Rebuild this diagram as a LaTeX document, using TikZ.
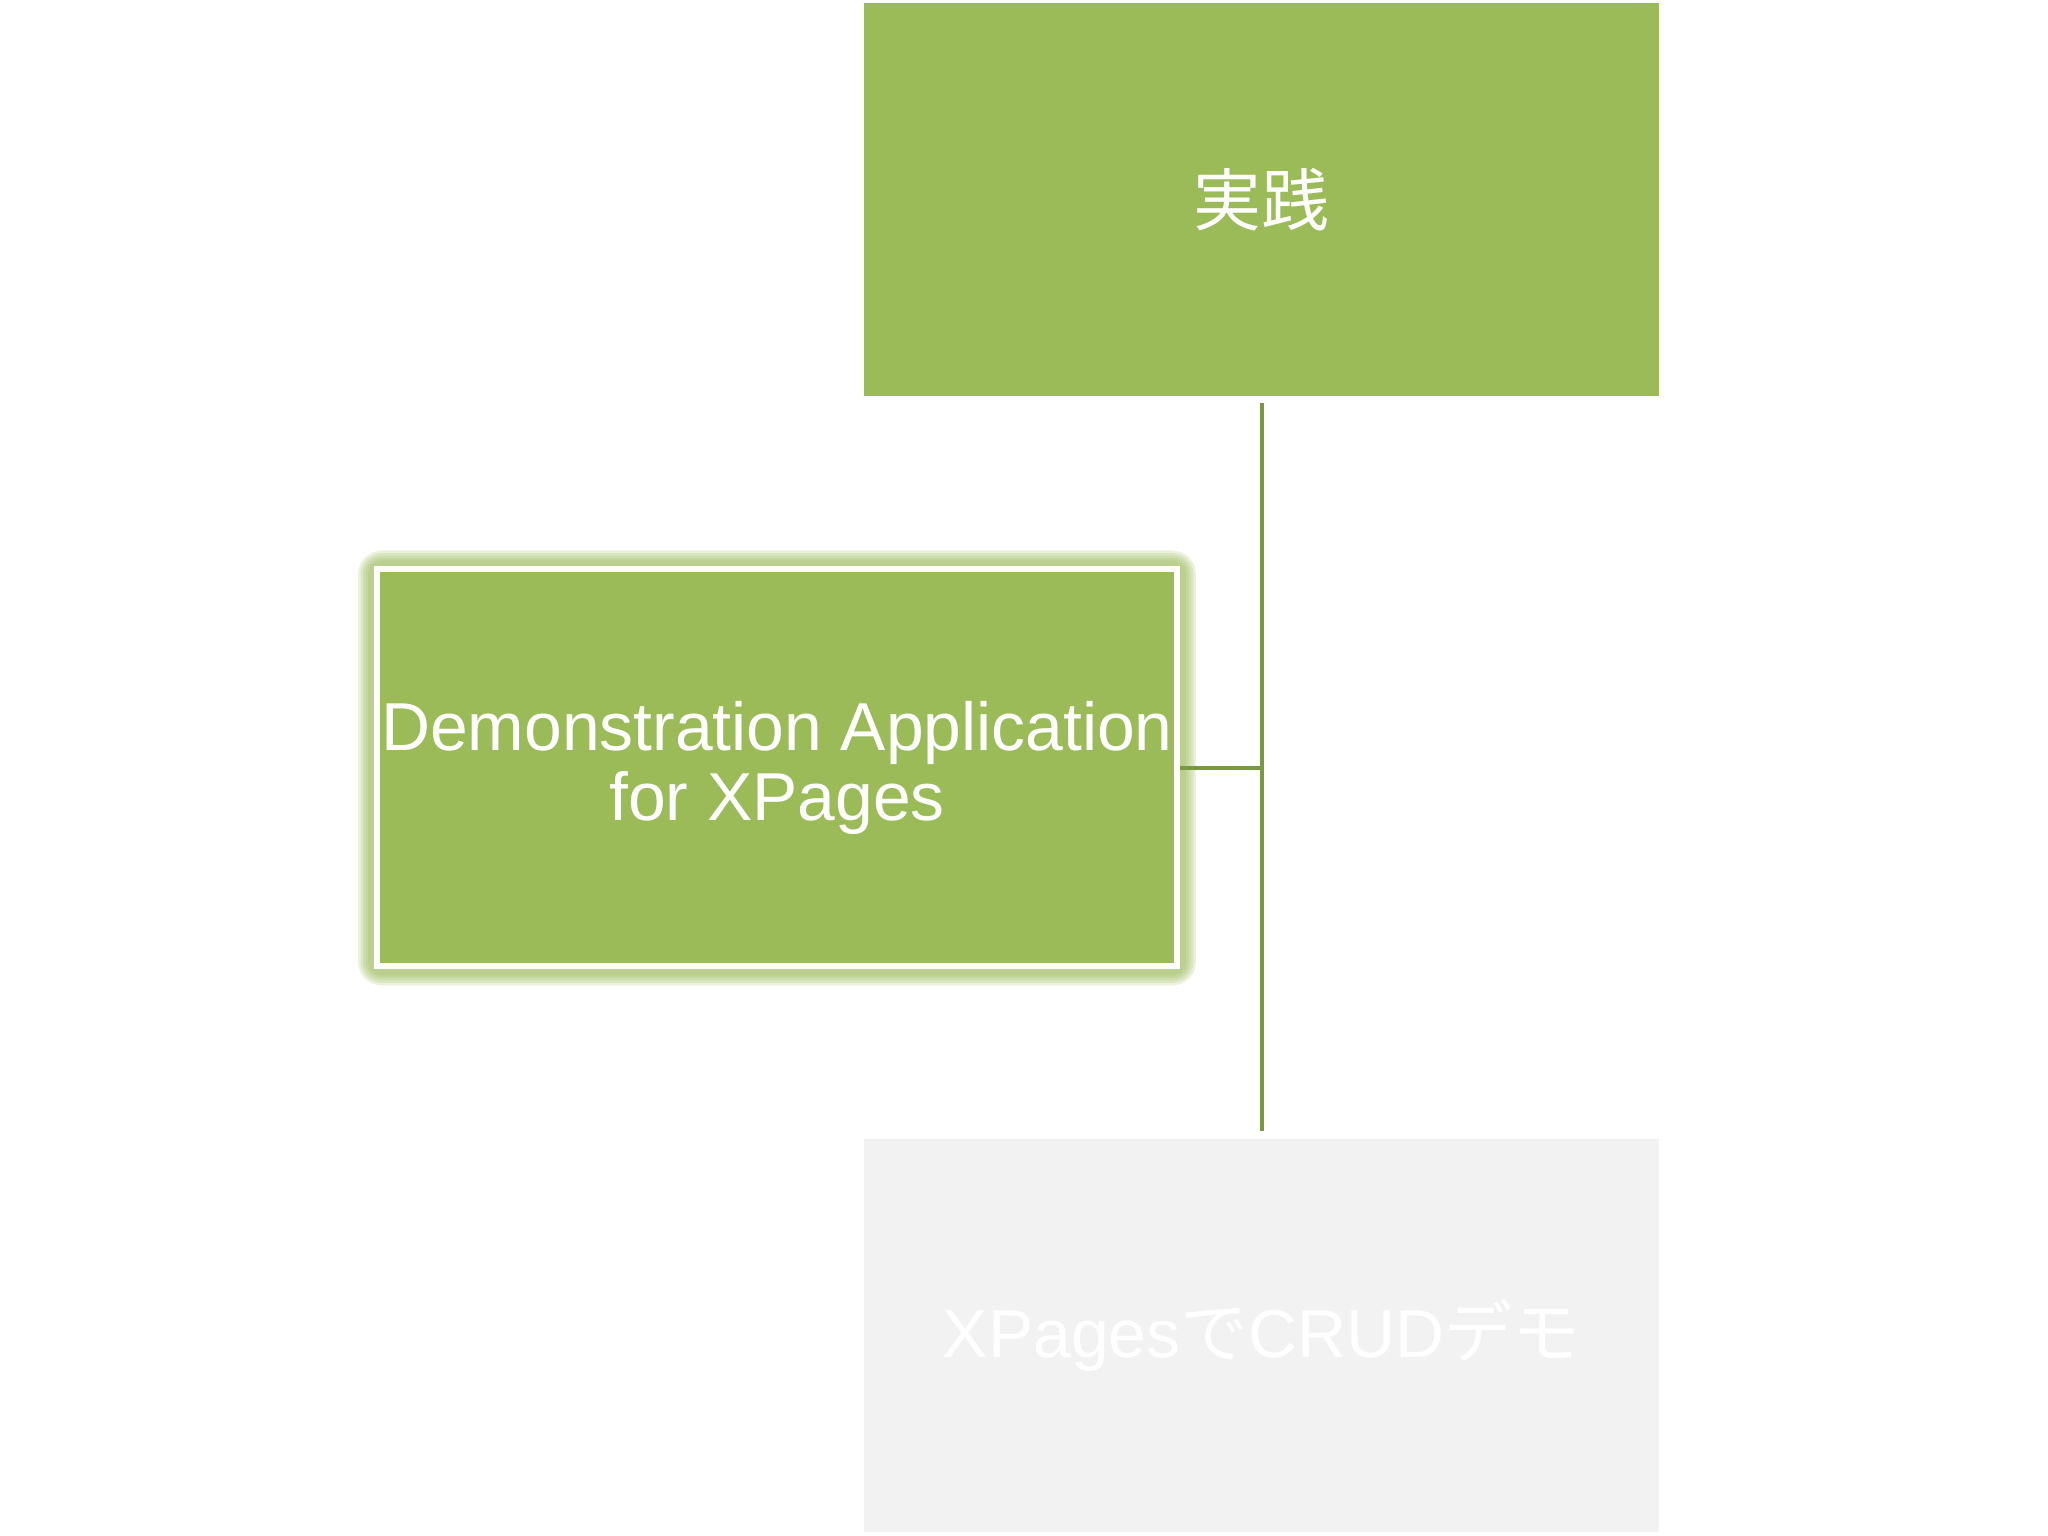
\documentclass[tikz,border=0pt]{standalone}
\usepackage{fontspec}
\setmainfont{Liberation Sans}
\newfontfamily\cjk{Noto Sans CJK JP}
\usetikzlibrary{backgrounds,calc}
\definecolor{boxgreen}{RGB}{155,187,89}
\definecolor{linegreen}{RGB}{122,152,64}
\definecolor{boxgray}{RGB}{242,242,242}
\tikzset{
  orgbox/.style={rectangle, inner sep=0pt, align=center, text=white,
    font=\fontsize{19.3}{19.8}\selectfont},
  topbox/.style={orgbox, fill=boxgreen, minimum width=7.95cm, minimum height=3.93cm},
  midbox/.style={orgbox, fill=boxgreen, draw=white, line width=0.06cm,
    minimum width=8.00cm, minimum height=3.97cm},
  botbox/.style={orgbox, fill=boxgray, minimum width=7.95cm, minimum height=3.93cm},
  conn/.style={draw=linegreen, line width=0.04cm},
  glow/.style={draw=boxgreen, line join=round, rounded corners=0.08cm, opacity=0.2}
}
\begin{document}
\begin{tikzpicture}
\useasboundingbox (0,0) rectangle (20.48,15.36);
\node[topbox] (top) at (12.615,13.365) {{\cjk 実践}};
\node[midbox] (mid) at (7.77,7.68) {Demonstration Application\\for XPages};
\node[botbox] (bot) at (12.615,2.005) {XPages{\cjk で}CRUD{\cjk デモ}};
\begin{scope}[on background layer]
  \fill[white] (0,0) rectangle (20.48,15.36);
  \foreach \w in {0.32,0.27,0.22,0.17,0.12}
    \draw[glow, line width=\w cm] (mid.south west) rectangle (mid.north east);
\end{scope}
\coordinate (vtop) at ($(top.south)+(0,-0.06)$);
\coordinate (vbot) at ($(bot.north)+(0,0.07)$);
\coordinate (junc) at (mid.east -| top.south);
\draw[conn] (vtop) -- (vbot);
\draw[conn] (mid.east) -- (junc);
\end{tikzpicture}
\end{document}
